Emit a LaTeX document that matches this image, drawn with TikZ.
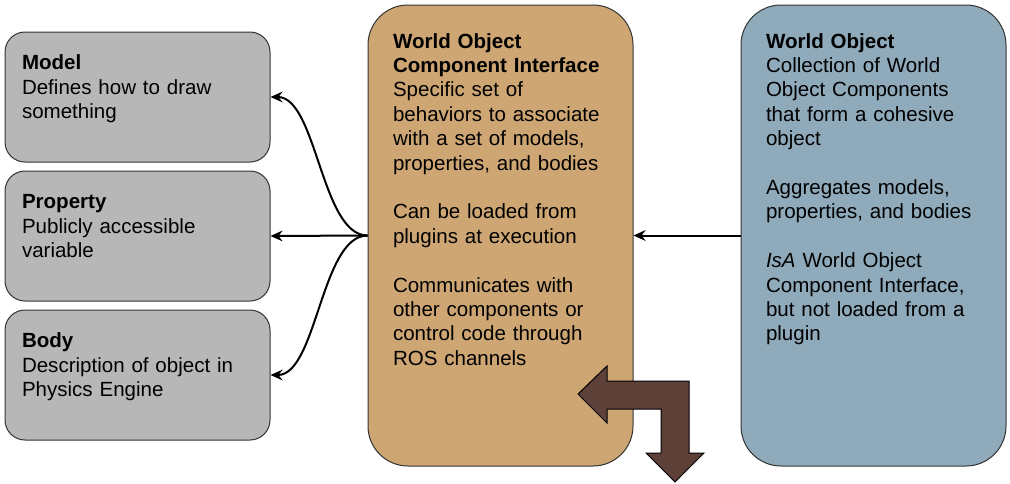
\documentclass[tikz,border=0pt]{standalone}
\usepackage{fontspec}
\setmainfont{Liberation Sans}
\usetikzlibrary{
    arrows.meta,
    positioning,
}
\definecolor{boxgray}{HTML}{B7B7B7}
\definecolor{ifacetan}{HTML}{CDA674}
\definecolor{worldblue}{HTML}{8FAABA}
\definecolor{turnbrown}{HTML}{5D4037}
\definecolor{edgegray}{HTML}{333333}
\tikzstyle{block} = [rectangle, draw=edgegray, fill=boxgray, line width=0.75pt,
    rounded corners=15pt, align=left, text width=173.25pt,
    inner xsep=12.75pt, inner ysep=12.75pt, text height=15.55pt, text depth=56.45pt]
\tikzstyle{tall} = [rectangle, draw=edgegray, line width=0.75pt,
    rounded corners=30pt, align=left, text width=161.25pt,
    inner xsep=18.75pt, inner ysep=12.75pt, text height=19.5pt, text depth=300.75pt]
\tikzstyle{line} = [draw, line width=1.5pt, -{Stealth[length=9pt,width=8pt,inset=3pt]}]

\begin{document}
\begin{tikzpicture}[x=0.75pt, y=-0.75pt, node distance=104.25pt,
    font=\fontsize{15.4}{18.3}\selectfont]
        \useasboundingbox (0,0) rectangle (1010,483);
        % Place nodes
        \node [block] (model) at (137.5,97) {\textbf{Model}\\Defines how to draw\\something};
        \node [block, below of=model] (property) {\textbf{Property}\\Publicly accessible\\variable};
        \node [block, below of=property] (body) {\textbf{Body}\\Description of object in\\Physics Engine};
        \node [tall, fill=ifacetan] (iface) at (500.5,235.5) {\textbf{World Object}\\\textbf{Component Interface}\\Specific set of\\behaviors to associate\\with a set of models,\\properties, and bodies\\[18.3pt]Can be loaded from\\plugins at execution\\[18.3pt]Communicates with\\other components or\\control code through\\ROS channels};
        \node [tall, fill=worldblue] (world) at (873.5,235.5) {\textbf{World Object}\\Collection of World\\Object Components\\that form a cohesive\\object\\[18.3pt]Aggregates models,\\properties, and bodies\\[18.3pt]\textit{IsA} World Object\\Component Interface,\\but not loaded from a\\plugin};
        % Draw edges
        \path [line] (iface.west) to[out=180,in=0,looseness=0.7] (model.east);
        \path [line] (iface.west) -- (property.east);
        \path [line] (iface.west) to[out=180,in=0,looseness=0.7] (body.east);
        \path [line] (world.west) -- (iface.east);
        % Turn arrow
        \filldraw [fill=turnbrown, draw=black, line width=0.75pt]
            (578,394) -- (607,366) -- (607,381) -- (689,381) -- (689,453)
            -- (704,453) -- (675,482) -- (646,453) -- (661,453) -- (661,409)
            -- (607,409) -- (607,423) -- cycle;
    \end{tikzpicture}
\end{document}
